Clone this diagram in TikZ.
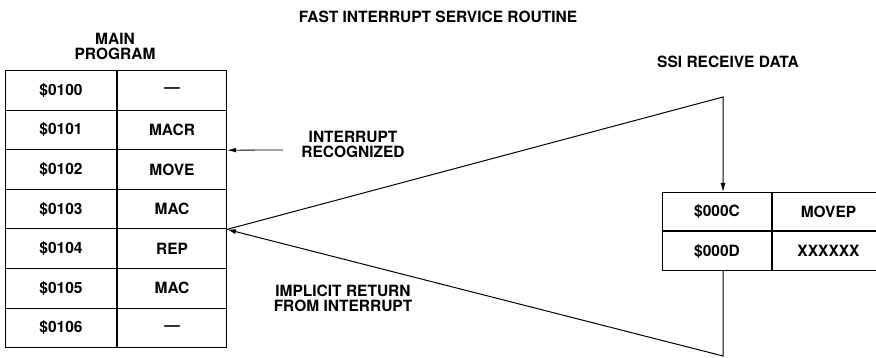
\documentclass[tikz,border=0pt]{standalone}
\usepackage{fontspec}
\setmainfont{TeX Gyre Heros}
\usetikzlibrary{arrows.meta, positioning, calc}

\begin{document}
\begin{tikzpicture}[
    x=1pt, y=-1pt,
    cell/.style={draw, line width=1pt, inner sep=0pt, anchor=north west, minimum height=39.6pt, font=\fontsize{15.5}{15.5}\selectfont\bfseries},
    label/.style={align=center, font=\fontsize{15.5}{15}\selectfont\bfseries},
    arrow/.style={-{Latex[length=9pt, width=5pt]}, line width=1pt}
]
    \useasboundingbox (0,0) rectangle (876,358);

    % --- Titles ---
    \node[label] (title) at (438,17) {FAST INTERRUPT SERVICE ROUTINE};
    \node[label] (mainlbl) at (115,46) {MAIN\\PROGRAM};
    \node[label] (ssilbl) at (728,62) {SSI RECEIVE DATA};

    % --- Main program ---
    \foreach \addr/\instr [count=\k from 0] in {\$0100/---, \$0101/MACR, \$0102/MOVE, \$0103/MAC, \$0104/REP, \$0105/MAC, \$0106/---} {
        \node[cell, minimum width=111pt] (a\k) at (5,70+39.6*\k) {\addr};
        \node[cell, minimum width=109pt] (i\k) at (a\k.north east) {\instr};
    }

    % --- Fast interrupt routine ---
    \node[cell, minimum width=109pt, minimum height=38.5pt] (r0) at (662,192) {\$000C};
    \node[cell, minimum width=112pt, minimum height=38.5pt] (s0) at (r0.north east) {MOVEP};
    \node[cell, minimum width=109pt, minimum height=38.5pt] (r1) at (r0.south west) {\$000D};
    \node[cell, minimum width=112pt, minimum height=38.5pt] (s1) at (r1.north east) {XXXXXX};

    % --- Interrupt and return ---
    \node[label] (irqlbl) at (353,144) {INTERRUPT\\RECOGNIZED};
    \coordinate (irqsrc) at (283,150);
    \draw[-{Latex[length=9pt, width=4.5pt]}, line width=0.8pt] (irqsrc) -- (i1.south east);

    \coordinate (vtop) at (723,97);
    \coordinate (vbot) at (723,356);
    \draw[arrow] (i3.south east) -- (vtop) -- (vtop |- r0.north);
    \draw[arrow] (vbot |- r1.south) -- (vbot) -- (i3.south east);

    \node[label] (retlbl) at (343,298) {IMPLICIT RETURN\\FROM INTERRUPT};

\end{tikzpicture}
\end{document}
